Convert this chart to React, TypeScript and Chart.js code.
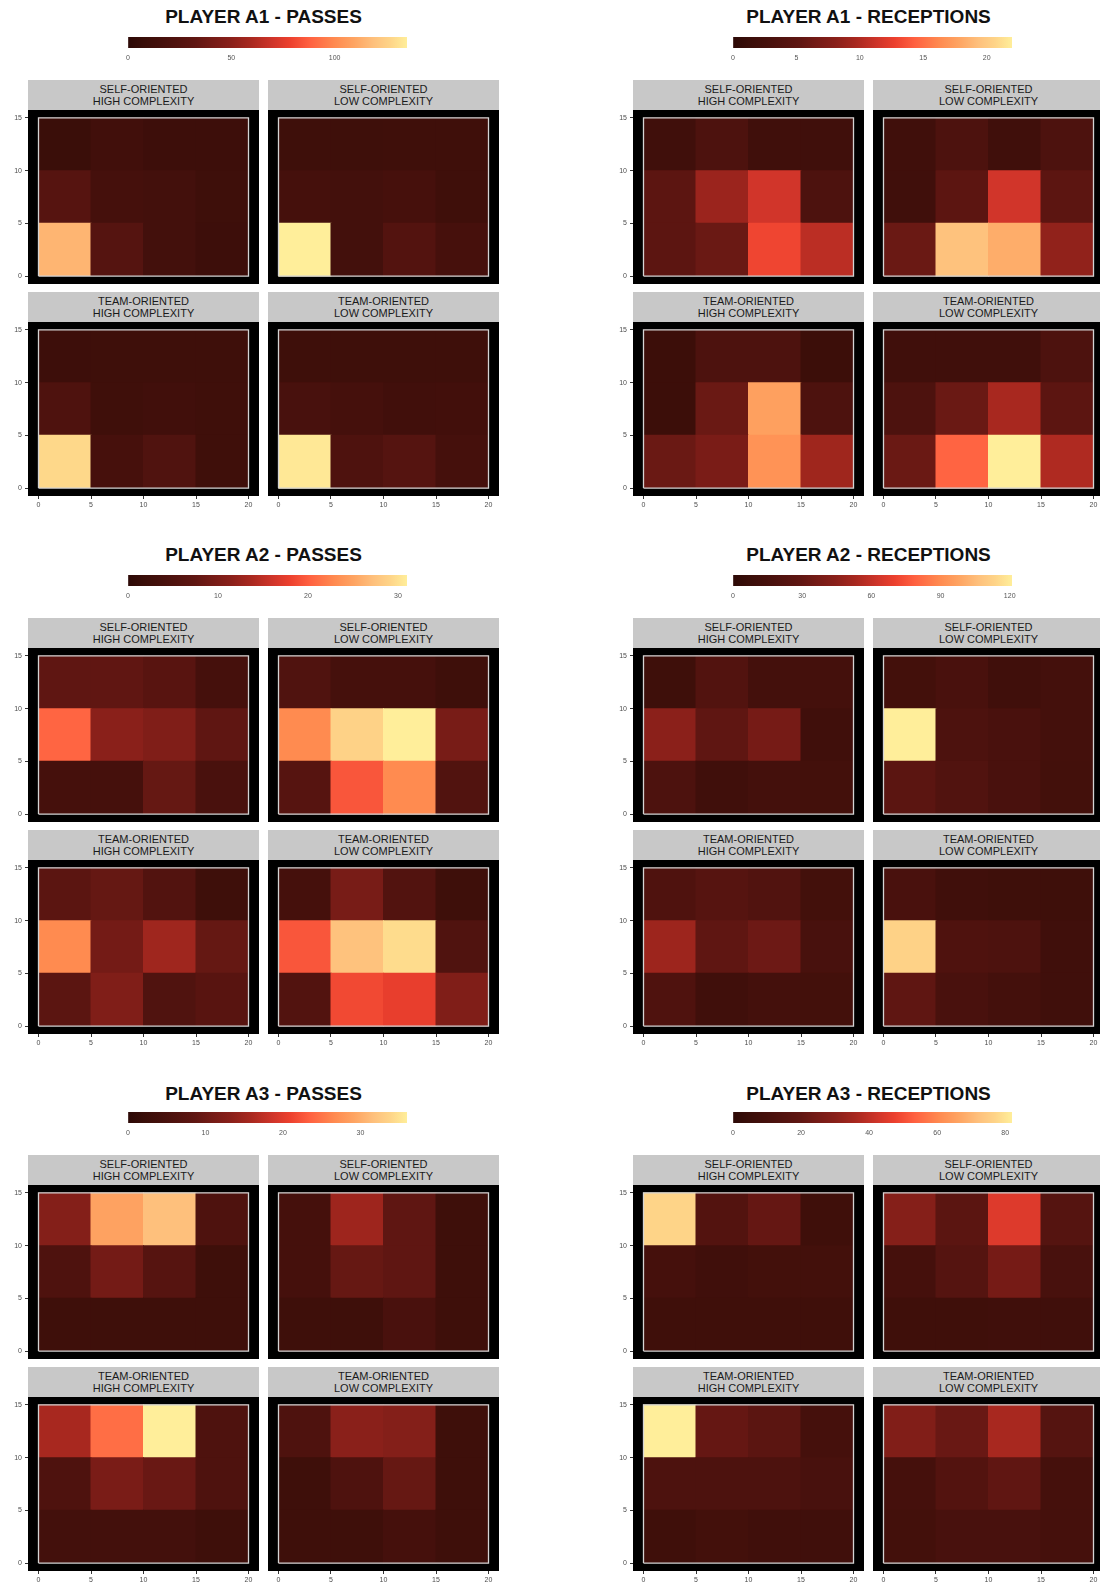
import React, { useEffect, useRef } from "react";
import { Chart, registerables } from "chart.js";

Chart.register(...registerables);

const FONT = "'Liberation Sans', Arial, Helvetica, sans-serif";

// ---------- grid definition (data units) ----------
const X_CENTERS = [2.5, 7.5, 12.5, 17.5];
const Y_BANDS = [[10, 15], [5, 10], [0, 5]]; // rows: top, middle, bottom
const X_TICKS = [0, 5, 10, 15, 20];
const Y_TICKS = [0, 5, 10, 15];
const X_FIELD = [0, 20];
const Y_FIELD = [0, 15];

const FACET_LABELS = [
  ["SELF-ORIENTED", "HIGH COMPLEXITY"],
  ["SELF-ORIENTED", "LOW COMPLEXITY"],
  ["TEAM-ORIENTED", "HIGH COMPLEXITY"],
  ["TEAM-ORIENTED", "LOW COMPLEXITY"],
];

const GROUP_TITLES = [
  "PLAYER A1 - PASSES",
  "PLAYER A1 - RECEPTIONS",
  "PLAYER A2 - PASSES",
  "PLAYER A2 - RECEPTIONS",
  "PLAYER A3 - PASSES",
  "PLAYER A3 - RECEPTIONS",
];

// ---------- values: each panel = [top row, middle row, bottom row], columns x 0-5 .. 15-20 ----------
const A1_PASSES_SELF_HIGH = [[8, 13, 10, 10], [27, 16, 15, 11], [115, 26, 15, 10]];
const A1_PASSES_SELF_LOW = [[11, 11, 12, 12], [16, 15, 17, 12], [135, 15, 25, 17]];
const A1_PASSES_TEAM_HIGH = [[10, 11, 11, 11], [22, 12, 13, 12], [128, 17, 23, 12]];
const A1_PASSES_TEAM_LOW = [[11, 11, 11, 11], [18, 16, 13, 14], [133, 22, 26, 16]];

const A1_REC_SELF_HIGH = [[2, 3.5, 2, 2], [5, 9, 11.5, 3.5], [5, 6, 13, 10.5]];
const A1_REC_SELF_LOW = [[2, 3.5, 2, 3.5], [2, 5, 11.5, 5], [6, 19.5, 18.3, 8.5]];
const A1_REC_TEAM_HIGH = [[1.5, 3.5, 3.5, 1.5], [1.5, 6, 17.6, 3.5], [6, 7, 16.8, 9.2]];
const A1_REC_TEAM_LOW = [[2, 2, 2, 3.5], [3.5, 6, 9.7, 5], [6, 14.5, 22, 10]];

const A2_PASSES_SELF_HIGH = [[7.4, 7.5, 6.5, 3.7], [20.5, 11.5, 10.5, 7.4], [3.7, 3.7, 8, 4.3]];
const A2_PASSES_SELF_LOW = [[5.3, 3.7, 3.7, 2.5], [23, 29, 31, 9.7], [6.2, 19.5, 23, 5.5]];
const A2_PASSES_TEAM_HIGH = [[6.8, 8, 5.6, 2.5], [23, 9.3, 13, 8], [6.8, 10.5, 5.3, 6.5]];
const A2_PASSES_TEAM_LOW = [[3.7, 9.7, 5.6, 2.5], [19.5, 27.5, 29.7, 5.3], [5.6, 18.6, 17.7, 10.5]];

const A2_REC_SELF_HIGH = [[10, 22, 14, 14], [45, 29, 37, 11], [19, 11, 14, 13]];
const A2_REC_SELF_LOW = [[13, 17, 11, 14], [121, 19, 17, 14], [27, 21, 17, 13]];
const A2_REC_TEAM_HIGH = [[20, 24, 21, 13], [50, 29, 34, 16], [20, 11, 14, 13]];
const A2_REC_TEAM_LOW = [[17, 11, 10, 10], [113, 20, 19, 11], [29, 17, 14, 11]];

const A3_PASSES_SELF_HIGH = [[12.6, 29, 31.7, 5.8], [5.8, 10.8, 7.2, 2.9], [3, 3, 3, 3]];
const A3_PASSES_SELF_LOW = [[4.3, 15, 8.6, 2.9], [4.3, 9.4, 8.6, 2.9], [2.9, 2.9, 5, 2.9]];
const A3_PASSES_TEAM_HIGH = [[15.8, 24.5, 36, 5.8], [5.8, 11.5, 9.7, 5.8], [4, 4, 4, 2.9]];
const A3_PASSES_TEAM_LOW = [[5.8, 13.3, 12.6, 2.9], [2.9, 5.8, 9.4, 2.9], [2.9, 2.9, 4.3, 2.9]];

const A3_REC_SELF_HIGH = [[77, 15, 21, 7], [10, 7.5, 9, 9], [7, 7, 7, 7]];
const A3_REC_SELF_LOW = [[29, 18, 45, 16], [10, 16, 25, 11], [7, 7, 7.5, 7.5]];
const A3_REC_TEAM_HIGH = [[82, 21, 18, 10], [13, 13, 13, 11], [7, 9, 7.5, 7.5]];
const A3_REC_TEAM_LOW = [[28, 22, 36, 16], [10, 15, 20, 10], [9, 11, 11, 10]];

// ---------- colour-bar tick labels ----------
const A1_PASSES_TICKS = [0, 50, 100];
const A1_REC_TICKS = [0, 5, 10, 15, 20];
const A2_PASSES_TICKS = [0, 10, 20, 30];
const A2_REC_TICKS = [0, 30, 60, 90, 120];
const A3_PASSES_TICKS = [0, 10, 20, 30];
const A3_REC_TICKS = [0, 20, 40, 60, 80];

// ---------- palette ----------
const PALETTE_STOPS = [0, 0.06, 0.12, 0.18, 0.24, 0.3, 0.37, 0.44, 0.52, 0.58, 0.65, 0.74, 0.81, 0.88, 0.94, 1];
const PALETTE_COLORS = [
  "#2c0906", "#3a0e09", "#45100c", "#52130f", "#5f1612", "#741b16", "#8a201a", "#a8281f",
  "#d0352a", "#ec402e", "#ff6040", "#ff8a50", "#fea462", "#fec07c", "#fed488", "#ffee9a",
];

const GROUPS = [
  { title: GROUP_TITLES[0], ticks: A1_PASSES_TICKS, panels: [A1_PASSES_SELF_HIGH, A1_PASSES_SELF_LOW, A1_PASSES_TEAM_HIGH, A1_PASSES_TEAM_LOW] },
  { title: GROUP_TITLES[1], ticks: A1_REC_TICKS, panels: [A1_REC_SELF_HIGH, A1_REC_SELF_LOW, A1_REC_TEAM_HIGH, A1_REC_TEAM_LOW] },
  { title: GROUP_TITLES[2], ticks: A2_PASSES_TICKS, panels: [A2_PASSES_SELF_HIGH, A2_PASSES_SELF_LOW, A2_PASSES_TEAM_HIGH, A2_PASSES_TEAM_LOW] },
  { title: GROUP_TITLES[3], ticks: A2_REC_TICKS, panels: [A2_REC_SELF_HIGH, A2_REC_SELF_LOW, A2_REC_TEAM_HIGH, A2_REC_TEAM_LOW] },
  { title: GROUP_TITLES[4], ticks: A3_PASSES_TICKS, panels: [A3_PASSES_SELF_HIGH, A3_PASSES_SELF_LOW, A3_PASSES_TEAM_HIGH, A3_PASSES_TEAM_LOW] },
  { title: GROUP_TITLES[5], ticks: A3_REC_TICKS, panels: [A3_REC_SELF_HIGH, A3_REC_SELF_LOW, A3_REC_TEAM_HIGH, A3_REC_TEAM_LOW] },
];

// ---------- layout ----------
const AXIS_W = 28;
const PANEL_W = 231;
const PANEL_H = 174;
const STRIP_H = 30;
const COL_STEP = 240;
const ROW_STEP = 212;
const XAXIS_H = 18;
const GROUP_LEFTS = [28, 633];
const GROUP_STRIP_TOPS = [80, 618, 1155];
const GROUP_TITLE_YS = [17, 555, 1094];
const CB_OFFSET_X = 100;
const CB_OFFSET_Y = -43;
const CB_W = 279;
const CB_H = 11;
const CB_PAD = 20;
const CB_AXIS_H = 18;

function hexToRgb(h: string) {
  const n = parseInt(h.slice(1), 16);
  return [(n >> 16) & 255, (n >> 8) & 255, n & 255];
}

function colorFor(v: number, max: number) {
  const t = Math.max(0, Math.min(1, v / max));
  for (let i = 1; i < PALETTE_STOPS.length; i++) {
    if (t <= PALETTE_STOPS[i]) {
      const a = PALETTE_STOPS[i - 1];
      const b = PALETTE_STOPS[i];
      const f = (t - a) / (b - a || 1);
      const c0 = hexToRgb(PALETTE_COLORS[i - 1]);
      const c1 = hexToRgb(PALETTE_COLORS[i]);
      const c = c0.map((x, k) => Math.round(x + (c1[k] - x) * f));
      return `rgb(${c[0]},${c[1]},${c[2]})`;
    }
  }
  return PALETTE_COLORS[PALETTE_COLORS.length - 1];
}

const panelBackground = {
  id: "panelBackground",
  beforeDraw(chart: any) {
    const { ctx, chartArea: a } = chart;
    if (!a) return;
    ctx.save();
    ctx.fillStyle = "#000000";
    ctx.fillRect(a.left, a.top, a.right - a.left, a.bottom - a.top);
    ctx.restore();
  },
};

function zeroPadding(s: any) {
  s.paddingTop = 0;
  s.paddingBottom = 0;
  s.paddingLeft = 0;
  s.paddingRight = 0;
}

function HeatPanel(props: { rows: number[][]; max: number; showX: boolean; showY: boolean; left: number; top: number }) {
  const { rows, max, showX, showY, left, top } = props;
  const ref = useRef<HTMLCanvasElement>(null);
  const width = (showY ? AXIS_W : 0) + PANEL_W;
  const height = PANEL_H + (showX ? XAXIS_H : 0);

  useEffect(() => {
    const cells: any[] = [];
    const colors: string[] = [];
    rows.forEach((row, ri) =>
      row.forEach((v, ci) => {
        cells.push({ x: X_CENTERS[ci], y: Y_BANDS[ri] });
        colors.push(colorFor(v, max));
      })
    );
    const border = [
      { x: X_FIELD[0], y: Y_FIELD[0] },
      { x: X_FIELD[1], y: Y_FIELD[0] },
      { x: X_FIELD[1], y: Y_FIELD[1] },
      { x: X_FIELD[0], y: Y_FIELD[1] },
      { x: X_FIELD[0], y: Y_FIELD[0] },
    ];
    const xPad = (X_FIELD[1] - X_FIELD[0]) * 0.05;
    const yPad = (Y_FIELD[1] - Y_FIELD[0]) * 0.05;
    const tickFont = { family: FONT, size: 7 };
    const chart = new Chart(ref.current as HTMLCanvasElement, {
      type: "bar",
      data: {
        datasets: [
          {
            type: "line",
            data: border,
            borderColor: "#d4d4d4",
            borderWidth: 1.3,
            pointRadius: 0,
            fill: false,
            tension: 0,
            order: 0,
            borderJoinStyle: "miter",
          } as any,
          {
            type: "bar",
            data: cells,
            backgroundColor: colors,
            borderWidth: 0,
            barPercentage: 1,
            categoryPercentage: 1,
            grouped: false,
            order: 1,
            inflateAmount: 0.5,
          } as any,
        ],
      },
      options: {
        responsive: false,
        animation: false,
        events: [],
        layout: { padding: 0 },
        plugins: { legend: { display: false }, tooltip: { enabled: false }, title: { display: false } },
        scales: {
          x: {
            type: "linear",
            min: X_FIELD[0] - xPad,
            max: X_FIELD[1] + xPad,
            offset: false,
            display: showX,
            grid: { offset: false, drawOnChartArea: false, drawTicks: true, tickLength: 3, color: "#333333" },
            border: { display: false },
            ticks: { font: tickFont, color: "#4d4d4d", padding: 2, maxRotation: 0, autoSkip: false },
            afterBuildTicks: (s: any) => {
              s.ticks = X_TICKS.map((v) => ({ value: v }));
            },
            afterFit: (s: any) => {
              zeroPadding(s);
              if (showX) s.height = XAXIS_H;
            },
          },
          y: {
            type: "linear",
            min: Y_FIELD[0] - yPad,
            max: Y_FIELD[1] + yPad,
            display: showY,
            grid: { drawOnChartArea: false, drawTicks: true, tickLength: 3, color: "#333333" },
            border: { display: false },
            ticks: { font: tickFont, color: "#4d4d4d", padding: 3 },
            afterBuildTicks: (s: any) => {
              s.ticks = Y_TICKS.map((v) => ({ value: v }));
            },
            afterFit: (s: any) => {
              zeroPadding(s);
              if (showY) s.width = AXIS_W;
            },
          },
        },
      } as any,
      plugins: [panelBackground],
    });
    return () => chart.destroy();
  }, [rows, max, showX, showY]);

  return (
    <canvas
      ref={ref}
      width={width}
      height={height}
      style={{ position: "absolute", left: left - (showY ? AXIS_W : 0), top, width, height, display: "block" }}
    />
  );
}

function ColorBar(props: { max: number; ticks: number[]; left: number; top: number }) {
  const { max, ticks, left, top } = props;
  const ref = useRef<HTMLCanvasElement>(null);
  const width = CB_W + 2 * CB_PAD;
  const height = CB_H + CB_AXIS_H;

  useEffect(() => {
    const chart = new Chart(ref.current as HTMLCanvasElement, {
      type: "bar",
      data: {
        labels: [""],
        datasets: [
          {
            data: [[0, max]],
            borderWidth: 0,
            barPercentage: 1,
            categoryPercentage: 1,
            backgroundColor: (c: any) => {
              const ch = c.chart;
              const xs = ch.scales && ch.scales.x;
              if (!ch.chartArea || !xs) return PALETTE_COLORS[0];
              const g = ch.ctx.createLinearGradient(xs.getPixelForValue(0), 0, xs.getPixelForValue(max), 0);
              PALETTE_STOPS.forEach((s, i) => g.addColorStop(s, PALETTE_COLORS[i]));
              return g;
            },
          } as any,
        ],
      },
      options: {
        indexAxis: "y",
        responsive: false,
        animation: false,
        events: [],
        layout: { padding: { left: CB_PAD, right: CB_PAD, top: 0, bottom: 0 } },
        plugins: { legend: { display: false }, tooltip: { enabled: false } },
        scales: {
          y: { display: false },
          x: {
            type: "linear",
            min: 0,
            max,
            z: 1,
            grid: {
              drawOnChartArea: true,
              drawTicks: false,
              lineWidth: 1,
              color: (c: any) => (c.tick && c.tick.value === 0 ? "rgba(0,0,0,0)" : "rgba(255,255,255,0.7)"),
            },
            border: { display: false },
            ticks: { font: { family: FONT, size: 7 }, color: "#555555", padding: 6, maxRotation: 0, autoSkip: false },
            afterBuildTicks: (s: any) => {
              s.ticks = ticks.map((v) => ({ value: v }));
            },
            afterFit: (s: any) => {
              zeroPadding(s);
              s.height = CB_AXIS_H;
            },
          },
        },
      } as any,
    });
    return () => chart.destroy();
  }, [max, ticks]);

  return (
    <canvas
      ref={ref}
      width={width}
      height={height}
      style={{ position: "absolute", left: left - CB_PAD, top, width, height, display: "block" }}
    />
  );
}

function Strip(props: { lines: string[]; left: number; top: number }) {
  const { lines, left, top } = props;
  return (
    <div
      style={{
        position: "absolute",
        left,
        top,
        width: PANEL_W,
        height: STRIP_H,
        background: "#c8c8c8",
        display: "flex",
        flexDirection: "column",
        justifyContent: "center",
        alignItems: "center",
        fontFamily: FONT,
        fontSize: 11,
        lineHeight: "12px",
        color: "#1a1a1a",
      }}
    >
      {lines.map((l, i) => (
        <div key={i}>{l}</div>
      ))}
    </div>
  );
}

function Group(props: { index: number }) {
  const g = GROUPS[props.index];
  const col = props.index % 2;
  const row = Math.floor(props.index / 2);
  const L = GROUP_LEFTS[col];
  const S = GROUP_STRIP_TOPS[row];
  const max = Math.max(...g.panels.flat(2));
  return (
    <>
      <div
        style={{
          position: "absolute",
          left: L,
          width: PANEL_W + COL_STEP,
          top: GROUP_TITLE_YS[row] - 12,
          height: 24,
          lineHeight: "24px",
          textAlign: "center",
          fontFamily: FONT,
          fontWeight: "bold",
          fontSize: 19,
          color: "#111111",
        }}
      >
        {g.title}
      </div>
      <ColorBar max={max} ticks={g.ticks} left={L + CB_OFFSET_X} top={S + CB_OFFSET_Y} />
      {g.panels.map((rows, p) => {
        const pc = p % 2;
        const pr = Math.floor(p / 2);
        const x = L + pc * COL_STEP;
        const st = S + pr * ROW_STEP;
        return (
          <React.Fragment key={p}>
            <Strip lines={FACET_LABELS[p]} left={x} top={st} />
            <HeatPanel rows={rows} max={max} showX={pr === 1} showY={pc === 0} left={x} top={st + STRIP_H} />
          </React.Fragment>
        );
      })}
    </>
  );
}

export default function App() {
  return (
    <div
      style={{
        position: "absolute",
        left: 0,
        top: 0,
        width: 1100,
        height: 1586,
        overflow: "hidden",
        background: "#ffffff",
      }}
    >
      {GROUPS.map((_, i) => (
        <Group key={i} index={i} />
      ))}
    </div>
  );
}
